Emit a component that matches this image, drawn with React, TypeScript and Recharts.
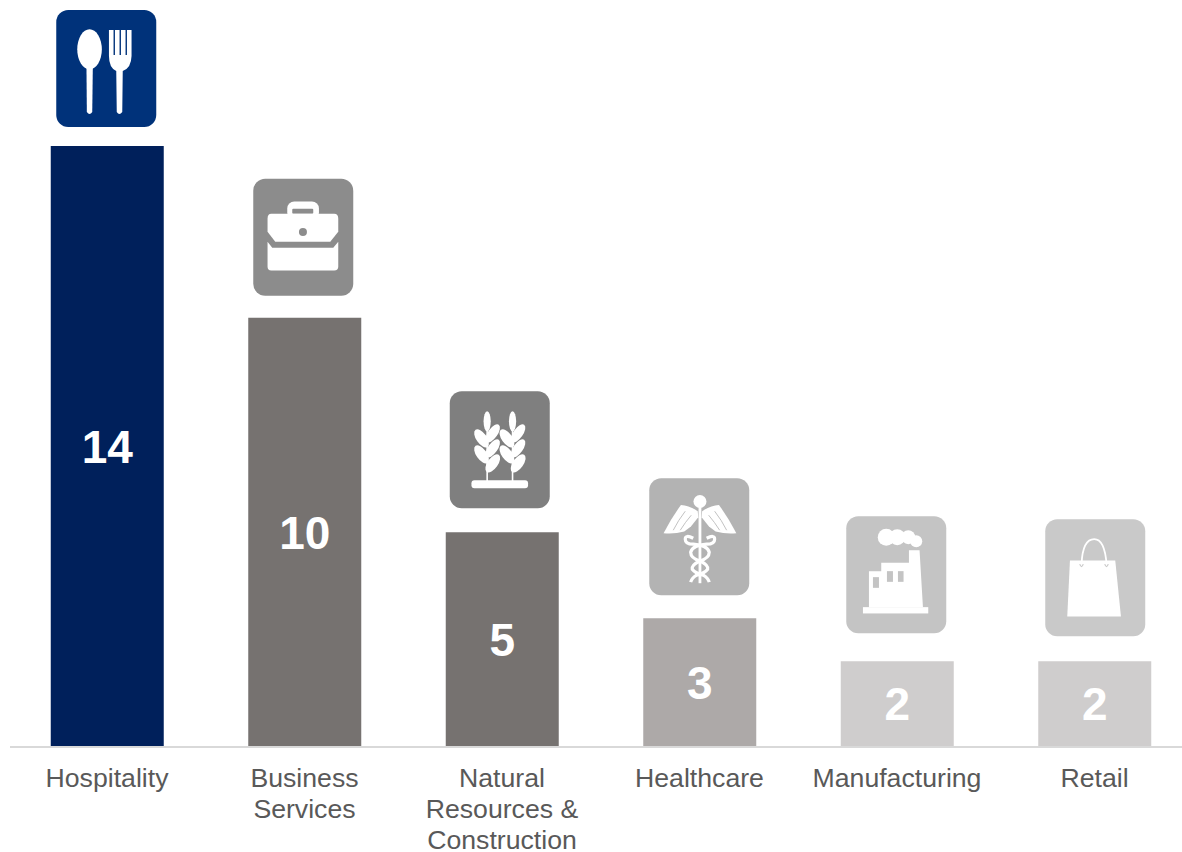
import React from "react";
import { BarChart, Bar, XAxis, YAxis, Cell, LabelList } from "recharts";

const categories = ["Hospitality", "Business Services", "Natural Resources & Construction", "Healthcare", "Manufacturing", "Retail"];
const values = [14, 10, 5, 3, 2, 2];
const barColors = ["#00205B", "#767270", "#767270", "#ADA9A8", "#CFCDCD", "#CFCDCD"];
const iconColors = ["#00327A", "#8C8C8C", "#7F7F7F", "#B3B3B3", "#C4C4C4", "#C9C9C9"];
const tickLines = [["Hospitality"], ["Business", "Services"], ["Natural", "Resources &", "Construction"], ["Healthcare"], ["Manufacturing"], ["Retail"]];
const iconGaps = [19, 22, 24, 23, 28, 25];
const iconShifts = [-1, -1.5, -2.5, -0.5, -1, 0.5];
const data = categories.map((category, i) => ({ category, value: values[i] }));

const W = "#FFFFFF";

function Cutlery() {
  return (
    <g fill={W}>
      <ellipse cx={33.3} cy={39.3} rx={12.3} ry={20} />
      <path d="M30.2 55 L36.6 55 L36 102 Q33.3 106 30.6 102 Z" />
      <path d="M52.7 20 L57.3 20 L57.3 45 L58.7 45 L58.7 20 L63.3 20 L63.3 45 L64.7 45 L64.7 20 L69.3 20 L69.3 45 L70.7 45 L70.7 20 L75.3 20 L75.3 46 Q75 58 66.5 61 L66 102 Q63 106 60.5 102 L60 61 Q52.8 58 52.7 46 Z" />
    </g>
  );
}

function Briefcase({ c }: { c: string }) {
  return (
    <g>
      <rect x={34} y={22.7} width={31.7} height={18} rx={7} fill={W} />
      <rect x={39} y={30} width={21} height={5} rx={1} fill={c} />
      <path d="M18 35 L81 35 Q85 35 85 40 L85 53 L77 63 L22 63 L14.3 53 L14.3 40 Q14.3 35 18 35 Z" fill={W} />
      <circle cx={49.7} cy={53.3} r={4} fill={c} />
      <path d="M14.3 63 L19 69 L80 69 L85 63 L85 88 Q85 91.7 81 91.7 L18 91.7 Q14.3 91.7 14.3 88 Z" fill={W} />
    </g>
  );
}

function Stalk({ dx }: { dx: number }) {
  return (
    <g fill={W} transform={`translate(${dx} 0)`}>
      <rect x={36.6} y={30} width={1.6} height={60} />
      <ellipse cx={37.4} cy={30} rx={3.6} ry={10} />
      <ellipse cx={31.8} cy={47} rx={5.2} ry={10.5} transform="rotate(-35 31.8 47)" />
      <ellipse cx={31.8} cy={63} rx={5.2} ry={10.5} transform="rotate(-35 31.8 63)" />
      <ellipse cx={43} cy={42} rx={4.8} ry={10.5} transform="rotate(35 43 42)" />
      <ellipse cx={43} cy={57} rx={4.8} ry={10.5} transform="rotate(35 43 57)" />
      <ellipse cx={43} cy={72} rx={5.2} ry={10.5} transform="rotate(35 43 72)" />
    </g>
  );
}

function Wheat() {
  return (
    <g>
      <Stalk dx={0} />
      <Stalk dx={25.4} />
      <rect x={21.7} y={89} width={56.6} height={8} rx={3} fill={W} />
    </g>
  );
}

function Caduceus({ c }: { c: string }) {
  const wing = "M48.5 33 Q40 27 31.7 26.7 Q22 40 14.3 55 Q25 56 35 53.3 L41.7 48.3 L49 39 Z";
  const slits = "M36 33 Q29 42 24 52 M42 37 Q36 44 31 52";
  const snake = "M44 60 Q36 56 36 61 Q36 66 44 66 Q58 67 60 74 Q60 80 50 83 Q42 87 43 91 Q46 95 54 97 Q59 100 60 104";
  return (
    <g>
      <circle cx={50.7} cy={23.3} r={6.5} fill={W} />
      <rect x={49.3} y={25} width={2.8} height={80} fill={W} />
      <path d={wing} fill={W} />
      <path d={slits} stroke={c} strokeWidth={0.8} fill="none" />
      <g transform="translate(101.4 0) scale(-1 1)">
        <path d={wing} fill={W} />
        <path d={slits} stroke={c} strokeWidth={0.8} fill="none" />
      </g>
      <path d={snake} fill="none" stroke={W} strokeWidth={3.2} />
      <path d={snake} fill="none" stroke={W} strokeWidth={3.2} transform="translate(101.4 0) scale(-1 1)" />
    </g>
  );
}

function Factory({ c }: { c: string }) {
  return (
    <g>
      <circle cx={40} cy={21} r={8.5} fill={W} />
      <circle cx={51} cy={21} r={8} fill={W} />
      <circle cx={62} cy={21} r={7} fill={W} />
      <circle cx={70} cy={25} r={6} fill={W} />
      <path d="M22.7 91 L22.7 55 L35 55 L35 46.7 L62.7 46.7 L62.7 34 L73.3 34 L76.7 91 Z" fill={W} />
      <rect x={16.7} y={91} width={65.3} height={6.3} fill={W} />
      <rect x={26.7} y={61} width={6} height={10.7} fill={c} />
      <rect x={40.7} y={55} width={6} height={10.7} fill={c} />
      <rect x={51.7} y={55} width={5.6} height={10.7} fill={c} />
    </g>
  );
}

function Bag({ c }: { c: string }) {
  return (
    <g>
      <path d="M24.7 41.3 L70 41.3 L75.7 97.3 L22 97.3 Z" fill={W} />
      <path d="M36.3 45 C37 28 42 20 49 20 C56 20 60 28 61.3 45" fill="none" stroke={W} strokeWidth={1.8} />
      <path d="M34.5 45 Q36.3 50 38 45 M59.5 45 Q61.3 50 63 45" fill="none" stroke={c} strokeWidth={1.2} />
    </g>
  );
}

function Glyph({ index, c }: { index: number; c: string }) {
  if (index === 0) return <Cutlery />;
  if (index === 1) return <Briefcase c={c} />;
  if (index === 2) return <Wheat />;
  if (index === 3) return <Caduceus c={c} />;
  if (index === 4) return <Factory c={c} />;
  return <Bag c={c} />;
}

function IconLabel(props: any) {
  const { x, y, width, index } = props;
  const c = iconColors[index];
  const left = x + width / 2 - 50 + iconShifts[index];
  const top = y - iconGaps[index] - 117;
  return (
    <g transform={`translate(${left} ${top})`}>
      <rect x={0} y={0} width={100} height={117} rx={12} fill={c} />
      <Glyph index={index} c={c} />
    </g>
  );
}

function CategoryTick(props: any) {
  const { x, y, index } = props;
  const lines = tickLines[index] || [];
  return (
    <text x={x - 0.5} y={y} textAnchor="middle" fontFamily="Liberation Sans" fontSize={26.67} fill="#595959">
      {lines.map((line, i) => (
        <tspan key={line} x={x - 0.5} dy={i === 0 ? 32 : 31}>{line}</tspan>
      ))}
    </text>
  );
}

export default function App() {
  return (
    <div style={{ position: "absolute", left: 0, top: 0, width: 1182, height: 852, background: "#FFFFFF", overflow: "hidden" }}>
      <BarChart width={1182} height={852} data={data} margin={{ top: 146, right: 0, bottom: 0, left: 10 }}>
        <XAxis
          dataKey="category"
          interval={0}
          axisLine={{ stroke: "#D9D9D9", strokeWidth: 2 }}
          tickLine={false}
          height={105}
          padding={{ left: -1.25, right: -11.75 }}
          tick={<CategoryTick />}
        />
        <YAxis hide domain={[0, 14]} />
        <Bar dataKey="value" barSize={113} isAnimationActive={false}>
          {data.map((d, i) => (
            <Cell key={d.category} fill={barColors[i]} />
          ))}
          <LabelList dataKey="value" position="center" fill="#FFFFFF" fontFamily="Liberation Sans" fontSize={46} fontWeight={700} />
          <LabelList dataKey="category" content={<IconLabel />} />
        </Bar>
      </BarChart>
    </div>
  );
}
